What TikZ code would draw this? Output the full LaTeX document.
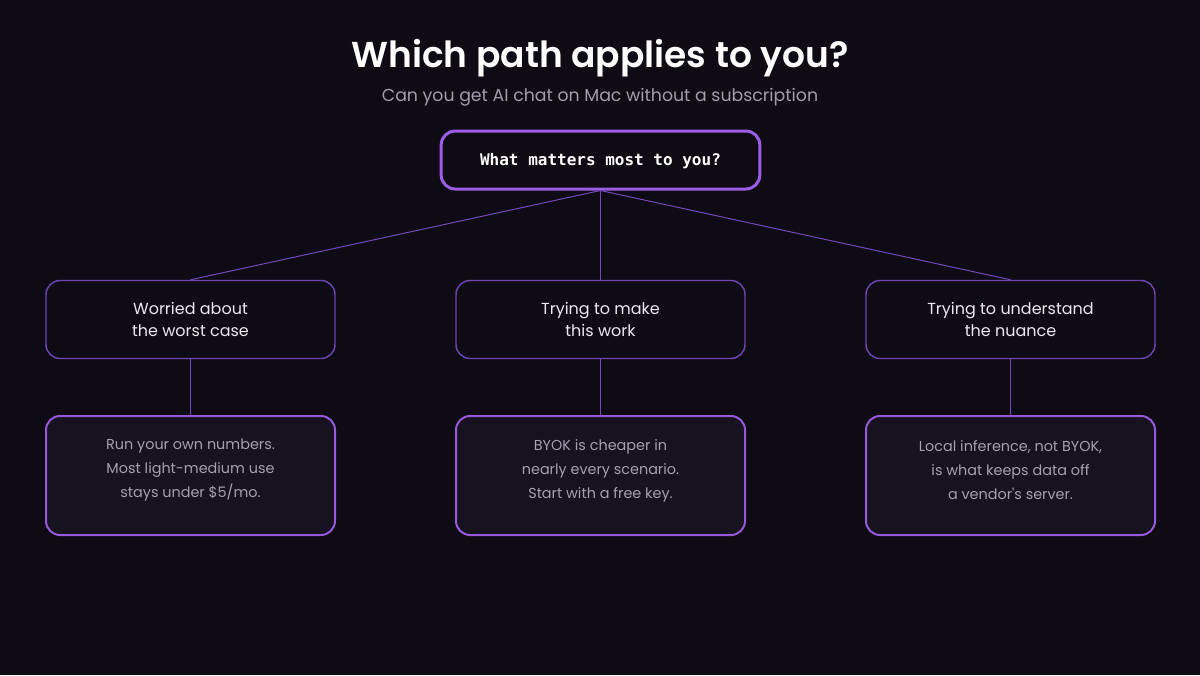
\documentclass[tikz,border=0pt]{standalone}
\usepackage{fontspec}
\setmainfont{Poppins}
\newfontfamily\monof{DejaVu Sans Mono}
\newfontfamily\titlef{Poppins}[UprightFont=* SemiBold]
\definecolor{bg}{HTML}{0E0B14}
\definecolor{topedge}{HTML}{9D5CE6}
\definecolor{midedge}{HTML}{6E45B0}
\definecolor{botedge}{HTML}{9858DC}
\definecolor{wire}{HTML}{7448BC}
\definecolor{botfill}{HTML}{16121F}
\definecolor{subgray}{HTML}{A29CAC}
\definecolor{bodygray}{HTML}{A69FB2}
\definecolor{midtext}{HTML}{ECE8F2}
\begin{document}
\begin{tikzpicture}[x=0.75pt,y=-0.75pt,
  topbox/.style={draw=topedge,line width=2.25pt,fill=bg,rounded corners=10.5pt,minimum width=239pt,minimum height=43.5pt,inner sep=0pt},
  midbox/.style={draw=midedge,line width=1.1pt,fill=bg,rounded corners=10.5pt,minimum width=216.75pt,minimum height=58.5pt,inner sep=0pt,align=center,text=midtext,font=\fontsize{12pt}{16.5pt}\selectfont},
  botbox/.style={draw=botedge,line width=1.5pt,fill=botfill,rounded corners=10.5pt,minimum width=216.75pt,minimum height=89.25pt,inner sep=0pt},
  bottext/.style={align=center,text=bodygray,font=\fontsize{10.8pt}{18pt}\selectfont,inner sep=0pt},
  wirestyle/.style={draw=wire,line width=0.75pt}]
\fill[bg] (0,0) rectangle (1200,675);
\useasboundingbox (0,0) rectangle (1200,675);
\node[text=white,font=\titlef\fontsize{27pt}{32pt}\selectfont,inner sep=0pt] (title) at (600,58) {Which path applies to you?};
\node[text=subgray,font=\fontsize{13pt}{16pt}\selectfont,inner sep=0pt] (sub) at (600,97) {Can you get AI chat on Mac without a subscription};
\node[topbox] (q) at (600.5,160) {};
\node[text=white,font=\monof\bfseries\fontsize{12pt}{14pt}\selectfont,inner sep=0pt] (qt) at (600.5,161.5) {What matters most to you?};
\node[midbox] (m1) at (190.5,319.5) {Worried about\\the worst case};
\node[midbox] (m2) at (600.5,319.5) {Trying to make\\this work};
\node[midbox] (m3) at (1010.5,319.5) {Trying to understand\\the nuance};
\node[botbox] (b1) at (190.5,475.5) {};
\node[botbox] (b2) at (600.5,475.5) {};
\node[botbox] (b3) at (1010.5,475.5) {};
\node[bottext] (t1) at (190.5,470.5) {Run your own numbers.\\Most light-medium use\\stays under \$5/mo.};
\node[bottext] (t2) at (600.5,470.5) {BYOK is cheaper in\\nearly every scenario.\\Start with a free key.};
\node[bottext] (t3) at (1010.5,470.5) {Local inference, not BYOK,\\is what keeps data off\\a vendor\textquotesingle s server.};
\draw[wirestyle] (q.south) -- (m1.north);
\draw[wirestyle] (q.south) -- (m2.north);
\draw[wirestyle] (q.south) -- (m3.north);
\draw[wirestyle] (m1.south) -- (b1.north);
\draw[wirestyle] (m2.south) -- (b2.north);
\draw[wirestyle] (m3.south) -- (b3.north);
\end{tikzpicture}
\end{document}
